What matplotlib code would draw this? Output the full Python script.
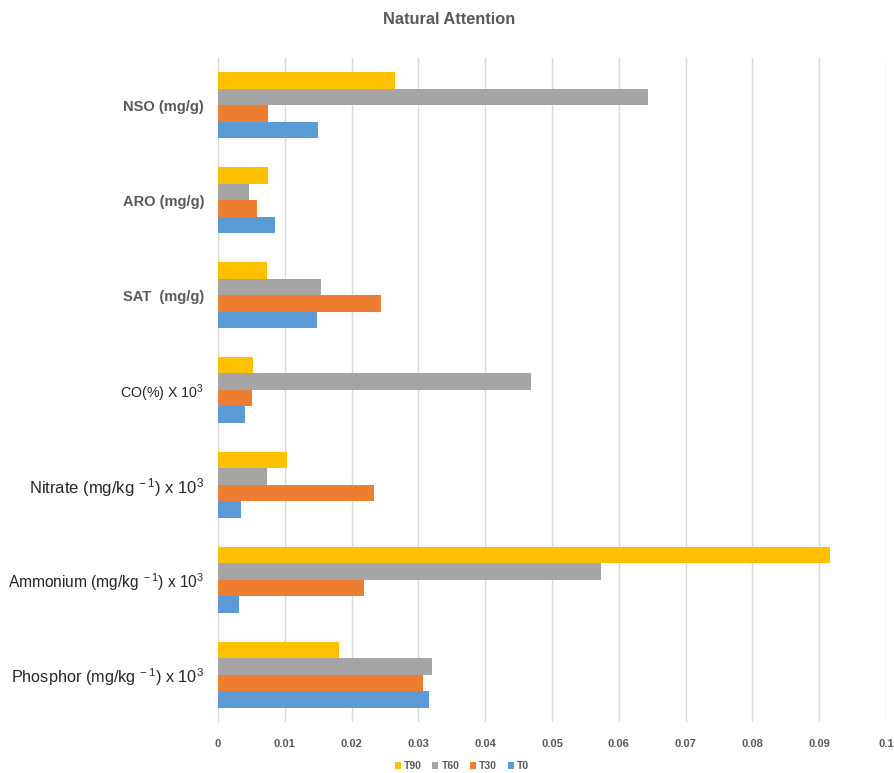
import numpy as np
import matplotlib.pyplot as plt

plt.rcParams['font.family'] = ['Liberation Sans', 'DejaVu Sans']
plt.rcParams['mathtext.fontset'] = 'custom'
plt.rcParams['mathtext.rm'] = 'Liberation Sans'
plt.rcParams['mathtext.it'] = 'Liberation Sans'

categories = ['NSO (mg/g)', 'ARO (mg/g)', 'SAT  (mg/g)', r'CO(%) X 10$^{3}$',
              r'Nitrate (mg/kg$^{\ -1}$) x 10$^{3}$',
              r'Ammonium (mg/kg$^{\ -1}$) x 10$^{3}$',
              r'Phosphor (mg/kg$^{\ -1}$) x 10$^{3}$']
t0 = [0.0149, 0.0085, 0.0148, 0.0040, 0.0034, 0.0032, 0.0316]
t30 = [0.0075, 0.0059, 0.0244, 0.0051, 0.0233, 0.0219, 0.0307]
t60 = [0.0644, 0.0046, 0.0154, 0.0469, 0.0074, 0.0573, 0.0320]
t90 = [0.0265, 0.0075, 0.0074, 0.0053, 0.0104, 0.0916, 0.0181]

series = [('T0', t0, '#5B9BD5'), ('T30', t30, '#ED7D31'),
          ('T60', t60, '#A5A5A5'), ('T90', t90, '#FFC000')]

fig = plt.figure(figsize=(8.95, 7.73), dpi=100)
ax = fig.add_axes([0.2436, 0.066, 0.7464, 0.859])

y = np.arange(len(categories))[::-1]
h = 0.174
handles = {}
for i, (name, vals, col) in enumerate(series):
    handles[name] = ax.barh(y + (i - 1.5) * h, vals, h, color=col, label=name, zorder=3)

ax.set_xlim(0, 0.1)
ax.set_ylim(-0.5, len(categories) - 0.5)
ax.set_xticks(np.arange(0, 0.101, 0.01))
ax.set_xticklabels(['0'] + ['%.2f' % v for v in np.arange(0.01, 0.095, 0.01)] + ['0.1'])
ax.grid(axis='x', color='#D9D9D9', linewidth=1, zorder=0)
ax.tick_params(axis='x', length=0, pad=12, labelsize=8, labelcolor='#595959')
for lab in ax.get_xticklabels():
    lab.set_fontweight('bold')

ax.set_yticks(y)
ax.set_yticklabels(categories)
ax.tick_params(axis='y', length=0, pad=10)
styles = [(10.5, 'bold', '#595959'), (10.5, 'bold', '#595959'), (10.5, 'bold', '#595959'),
          (10.3, 'normal', '#262626'), (12, 'normal', '#262626'),
          (11.2, 'normal', '#262626'), (11.7, 'normal', '#262626')]
for lab, (sz, wt, col) in zip(ax.get_yticklabels(), styles):
    lab.set_fontsize(sz)
    lab.set_fontweight(wt)
    lab.set_color(col)

for s in ['top', 'right', 'bottom']:
    ax.spines[s].set_visible(False)
ax.spines['left'].set_color('#D9D9D9')

fig.text(0.502, 0.975, 'Natural Attention', ha='center', va='center',
         fontsize=11.8, fontweight='bold', color='#595959')

leg = fig.legend([handles[k] for k in ['T90', 'T60', 'T30', 'T0']],
                 ['T90', 'T60', 'T30', 'T0'], loc='center', ncol=4,
                 bbox_to_anchor=(0.516, 0.009), frameon=False,
                 handlelength=0.6, handleheight=0.6, handletextpad=0.3,
                 columnspacing=1.0, prop={'size': 7.5, 'weight': 'bold'})
for t in leg.get_texts():
    t.set_color('#595959')

fig.savefig('out.png', dpi=100)
